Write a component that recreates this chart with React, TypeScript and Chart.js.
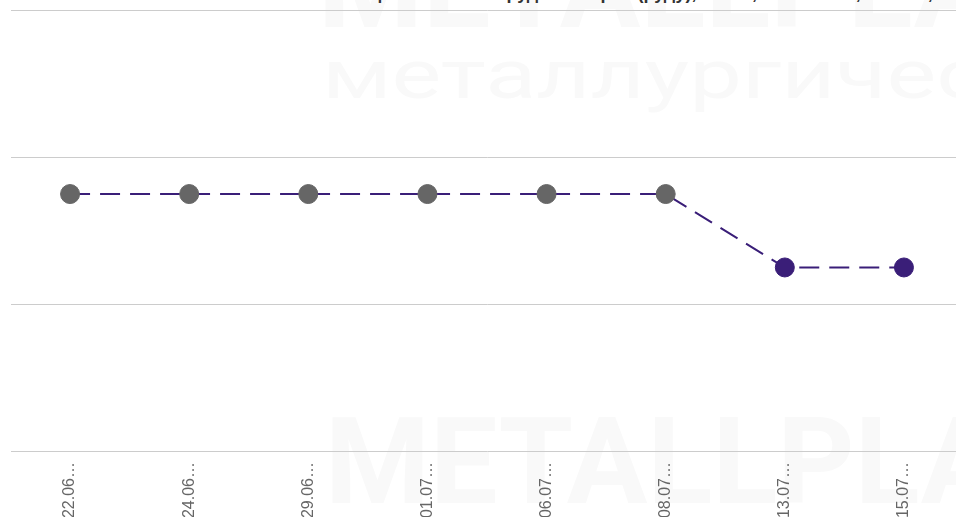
import React, { useEffect, useRef } from "react";
import { Chart, registerables } from "chart.js";

Chart.register(...registerables);

// ---- data ----
const dateLabels: string[] = ["22.06…", "24.06…", "29.06…", "01.07…", "06.07…", "08.07…", "13.07…", "15.07…"];
const priceValues: number[] = [117.5, 117.5, 117.5, 117.5, 117.5, 117.5, 112.5, 112.5];
const yMin = 100;
const yMax = 130;
const yStep = 10;
const titleText = "Цена на железорудное сырьё (руду), USD/т, CFR Китай, Fe 62%, мелочь";
const highlightFromIndex = 6;

const PURPLE = "#3a1e78";
const GREY = "#666666";
const WM = "#f9f9f9";

export default function App() {
  const ref = useRef<HTMLCanvasElement>(null);

  useEffect(() => {
    document.body.style.margin = "0";
    const canvas = ref.current;
    if (!canvas) return;
    const pointColor = (ctx: any) => (ctx.dataIndex >= highlightFromIndex ? PURPLE : GREY);
    const chart = new Chart(canvas, {
      type: "line",
      data: {
        labels: dateLabels,
        datasets: [
          {
            data: priceValues,
            borderColor: PURPLE,
            borderWidth: 2,
            borderDash: [20, 10],
            tension: 0,
            fill: false,
            pointRadius: 9.5,
            pointHoverRadius: 9.5,
            pointBorderWidth: 1,
            pointBackgroundColor: pointColor,
            pointBorderColor: pointColor,
          },
        ],
      },
      options: {
        responsive: false,
        animation: false,
        layout: { padding: { left: 9, right: 9, top: 8, bottom: 0 } },
        plugins: {
          legend: { display: false },
          title: { display: false },
          tooltip: { enabled: false },
        },
        scales: {
          x: {
            offset: true,
            grid: { display: false, drawTicks: true, tickLength: 8 },
            border: { display: false },
            ticks: {
              color: "#666",
              font: { family: "'Liberation Sans', Arial, sans-serif", size: 16 },
              minRotation: 90,
              maxRotation: 90,
              autoSkip: false,
              padding: 3,
            },
            afterFit: (s: any) => {
              s.height = 80;
              s.paddingLeft = 0;
              s.paddingRight = 0;
            },
          },
          y: {
            min: yMin,
            max: yMax,
            ticks: { display: false, stepSize: yStep },
            grid: { color: "#cccccc", drawTicks: false, lineWidth: 1 },
            border: { display: false },
            afterFit: (s: any) => {
              s.width = 0;
              s.paddingTop = 0;
              s.paddingBottom = 0;
            },
          },
        },
      },
    });
    return () => chart.destroy();
  }, []);

  return (
    <div style={{ position: "relative", width: 956, height: 517, overflow: "hidden", background: "#fff" }}>
      <div
        style={{
          position: "absolute",
          left: 318,
          top: -74,
          font: "bold 120px Roboto, sans-serif",
          lineHeight: 1,
          color: WM,
          whiteSpace: "nowrap",
        }}
      >
        METALLPLACE
      </div>
      <div
        style={{
          position: "absolute",
          left: 322,
          top: 41,
          font: "68px Roboto, sans-serif",
          lineHeight: 1,
          color: WM,
          whiteSpace: "nowrap",
          transform: "scaleX(1.38)",
          transformOrigin: "left top",
        }}
      >
        металлургический
      </div>
      <div
        style={{
          position: "absolute",
          left: 325,
          top: 402,
          font: "bold 120px Roboto, sans-serif",
          lineHeight: 1,
          color: WM,
          whiteSpace: "nowrap",
        }}
      >
        METALLPLACE
      </div>
      <div
        style={{
          position: "absolute",
          left: 368,
          top: -17,
          font: "bold 18px 'Liberation Sans', Arial, sans-serif",
          lineHeight: "20px",
          color: "#333",
          whiteSpace: "nowrap",
        }}
      >
        {titleText}
      </div>
      <canvas
        ref={ref}
        width={974}
        height={531}
        style={{ position: "absolute", left: 0, top: 0, display: "block" }}
      />
    </div>
  );
}
